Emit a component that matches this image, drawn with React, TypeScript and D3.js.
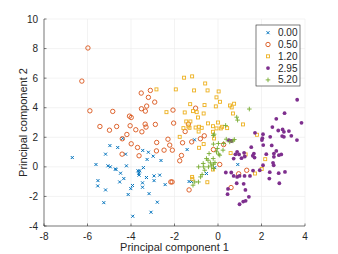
import React from "react";
import * as d3 from "d3";

const groupLabels = ["0.00", "0.50", "1.20", "2.95", "5.20"];
const groupColors = ["#0072BD", "#D95319", "#EDB120", "#7E2F8E", "#77AC30"];
const groupMarkers = ["x", "o", "s", "dot", "+"];

const xTicks = [-8, -6, -4, -2, 0, 2, 4];
const yTicks = [-4, -2, 0, 2, 4, 6, 8, 10];

const group0: [number, number][] = [
  [-6.70, 0.63], [-4.97, 1.44], [-5.17, 0.86], [-5.61, 0.16], [-5.06, 0.07], [-4.95, 0.0], [-5.52, -0.93], [-5.53, -1.29],
  [-5.17, -1.56], [-5.25, -2.42], [-4.61, 1.31], [-4.38, 1.92], [-4.25, 0.86], [-4.72, -0.14], [-4.69, -0.18], [-4.48, -0.43],
  [-4.21, 0.07], [-4.33, -0.79], [-4.52, -1.02], [-3.93, -1.26], [-4.01, -1.47], [-4.13, -1.87], [-3.92, -3.34], [-3.68, -0.27],
  [-3.63, -0.56], [-3.60, -0.27], [-3.64, -0.43], [-3.46, 1.11], [-3.43, -0.05], [-3.26, 0.50], [-3.20, 0.99], [-3.29, -0.72],
  [-3.47, -1.08], [-3.47, -1.38], [-3.17, -1.81], [-3.08, -3.07], [-2.98, 0.72], [-2.94, -0.61], [-2.94, -0.93], [-2.79, -2.39],
  [-2.68, -0.56], [-2.62, 0.43], [-2.43, -1.20], [-1.42, 1.17], [-1.33, -0.99], [-1.22, -0.99], [-1.08, 1.83], [-0.53, -0.45],
  [0.91, 0.16], [-0.15, -0.05],
];

const group1: [number, number][] = [
  [-5.98, 8.04], [-6.26, 5.80], [-5.89, 3.79], [-5.43, 2.73], [-4.99, 2.48], [-4.84, 3.75], [-4.66, 2.73], [-4.40, 1.90],
  [-4.41, 0.86], [-4.19, 2.19], [-4.07, 3.43], [-3.99, 3.34], [-4.04, 2.78], [-3.99, 1.56], [-3.78, 2.51], [-3.70, 1.31],
  [-3.63, 0.75], [-3.53, 4.99], [-3.52, 3.93], [-3.50, 2.37], [-3.35, 2.89], [-3.31, 2.69], [-3.34, 3.77], [-3.28, 4.11],
  [-3.20, 4.70], [-3.11, 5.17], [-2.91, 4.38], [-2.88, 2.87], [-2.82, 1.65], [-2.83, 1.08], [-2.48, 1.13], [-2.30, 1.87],
  [-2.22, 1.47], [-2.10, 1.13], [-2.07, 3.84], [-2.04, 2.96], [-2.17, -1.02], [-2.11, -1.02], [-1.76, 0.41], [-1.68, 0.77],
  [-1.63, 1.63], [-1.51, 2.39], [-1.36, 2.89], [-1.33, -1.56], [-1.21, 1.69], [-1.03, 3.97], [-0.81, 1.90], [-0.63, 2.10],
  [-0.21, 1.17], [0.26, 1.51], [0.08, 0.16], [0.60, -1.40], [0.95, -0.47], [1.32, -0.23],
];

const group2: [number, number][] = [
  [-2.83, 5.24], [-1.94, 5.24], [-1.56, 6.03], [-1.19, 6.12], [-1.10, 5.17], [-0.59, 5.64], [-0.48, 5.17], [-0.07, 4.70],
  [0.03, 5.10], [0.09, 4.40], [-0.10, 4.09], [-0.62, 4.18], [-1.28, 4.24], [-1.15, 3.77], [-0.98, 3.70], [-2.37, 3.70],
  [-1.53, 3.68], [-1.46, 3.07], [-1.27, 3.07], [-1.36, 2.73], [-1.59, 2.62], [-1.03, 2.66], [-0.92, 3.34], [-0.87, 2.71],
  [-0.75, 2.64], [-0.89, 2.39], [-1.31, 2.64], [-1.76, 2.03], [-0.66, 3.61], [-0.46, 2.94], [-0.23, 2.75], [-0.23, 2.37],
  [-0.07, 2.60], [0.13, 2.60], [0.19, 2.71], [0.42, 2.62], [0.00, 3.00], [0.55, 4.15], [0.63, 4.02], [0.74, 4.27],
  [0.69, 3.61], [1.15, 2.87], [1.79, 2.17], [-0.66, 1.54], [-0.87, 1.29], [-0.18, 1.92], [0.58, 0.93], [1.27, 0.84],
  [2.17, 0.52], [2.01, -0.14], [1.70, -0.45], [-1.19, -0.68], [-1.18, -0.81], [-0.49, -1.04], [-0.23, -0.18],
];

const group3: [number, number][] = [
  [3.64, 4.54], [3.84, 2.98], [3.06, 3.63], [2.68, 3.25], [2.50, 2.69], [2.77, 2.46], [2.97, 2.53], [3.03, 2.37],
  [2.95, 2.08], [3.03, 2.03], [3.26, 2.42], [3.37, 2.10], [3.63, 1.81], [1.70, 2.30], [2.07, 2.21], [2.04, 1.94],
  [2.02, 1.81], [2.40, 2.03], [1.53, 1.33], [2.08, 1.47], [2.47, 1.45], [2.68, 1.08], [2.57, 0.90], [2.22, 0.86],
  [1.65, 0.90], [0.88, 1.02], [0.97, 0.84], [1.08, 0.59], [1.23, 0.70], [1.68, 0.63], [0.72, 0.56], [2.07, 0.11],
  [2.53, 0.27], [2.56, 0.11], [2.57, 0.68], [2.80, 0.79], [2.91, 0.84], [0.36, -0.38], [0.61, -0.38], [0.72, -0.61],
  [0.88, -0.68], [0.99, -0.61], [1.22, -0.61], [1.47, -0.61], [1.61, -0.25], [1.92, -0.23], [2.38, -0.36], [2.79, -0.43],
  [3.08, -0.34], [2.36, -0.79], [2.82, -1.11], [0.86, -1.11], [1.18, -1.15], [1.26, -1.56], [0.46, -1.49], [0.44, -1.85],
  [0.99, -2.53], [1.16, -2.35], [1.27, -2.30], [1.42, -2.03], [1.60, 0.75], [1.20, 0.95], [0.80, 0.85], [0.50, 1.80],
  [0.62, 1.75],
];

const group4: [number, number][] = [
  [1.44, 3.91], [0.86, 3.36], [0.90, 3.16], [0.35, 2.80], [0.75, 1.85], [0.69, 1.76], [0.54, 1.69], [0.38, 1.87],
  [0.26, 1.58], [0.02, 1.58], [-0.18, 2.21], [-0.21, 2.12], [-0.21, 1.54], [-0.41, 0.90], [-0.07, 1.02], [-0.03, 1.24],
  [0.03, 0.86], [-0.53, 0.56], [-0.46, 0.45], [-0.35, 0.27], [-0.21, 0.18], [-0.14, 0.29], [-0.29, 0.07], [-0.44, 0.0],
  [-0.66, 0.0], [-0.89, 0.0], [-0.73, -0.52], [-0.80, -0.68], [-0.90, -1.02], [-1.07, -1.02], [-1.15, -1.24], [-0.21, -0.11],
  [0.23, 1.13], [-0.22, 0.56], [-0.68, 0.23], [-0.61, -0.23], [0.08, 0.79],
];

const groups = [group0, group1, group2, group3, group4];

const W = 338, H = 254;
const L = 44, R = 305, T = 19, B = 226;

function Marker({ type, color, x, y }: { type: string; color: string; x: number; y: number }) {
  if (type === "x") {
    const a = 1.5;
    return (
      <path d={`M${x - a},${y - a}L${x + a},${y + a}M${x - a},${y + a}L${x + a},${y - a}`} stroke={color} strokeWidth={1} fill="none" />
    );
  }
  if (type === "o") {
    return <circle cx={x} cy={y} r={2.2} stroke={color} strokeWidth={0.9} fill="none" />;
  }
  if (type === "s") {
    const a = 1.5;
    return <rect x={x - a} y={y - a} width={2 * a} height={2 * a} stroke={color} strokeWidth={0.9} fill="none" />;
  }
  if (type === "dot") {
    return <circle cx={x} cy={y} r={1.9} fill={color} />;
  }
  const a = 2.3;
  return <path d={`M${x - a},${y}L${x + a},${y}M${x},${y - a}L${x},${y + a}`} stroke={color} strokeWidth={0.9} fill="none" />;
}

export default function App() {
  const xs = d3.scaleLinear().domain([-8, 4]).range([L, R]);
  const ys = d3.scaleLinear().domain([-4, 10]).range([B, T]);
  const font = "'Liberation Sans', Arial, sans-serif";
  const axisColor = "#262626";
  return (
    <svg width={W} height={H} style={{ position: "absolute", left: 0, top: 0 }} fontFamily={font}>
      <rect width={W} height={H} fill="#fff" />
      {xTicks.map((t) => (
        <line key={"gx" + t} x1={xs(t)} x2={xs(t)} y1={T} y2={B} stroke="#ebebeb" strokeWidth={0.6} />
      ))}
      {yTicks.map((t) => (
        <line key={"gy" + t} x1={L} x2={R} y1={ys(t)} y2={ys(t)} stroke="#ebebeb" strokeWidth={0.6} />
      ))}
      <line x1={L} x2={L} y1={T} y2={B} stroke={axisColor} strokeWidth={0.6} />
      <line x1={L} x2={R} y1={B} y2={B} stroke={axisColor} strokeWidth={0.6} />
      {xTicks.map((t) => (
        <g key={"tx" + t}>
          <line x1={xs(t)} x2={xs(t)} y1={B} y2={B - 2.5} stroke={axisColor} strokeWidth={0.6} />
          <text x={xs(t)} y={240} fontSize={10} textAnchor="middle" fill={axisColor}>{t}</text>
        </g>
      ))}
      {yTicks.map((t) => (
        <g key={"ty" + t}>
          <line x1={L} x2={L + 2.5} y1={ys(t)} y2={ys(t)} stroke={axisColor} strokeWidth={0.6} />
          <text x={38} y={ys(t) + 3.5} fontSize={10} textAnchor="end" fill={axisColor}>{t}</text>
        </g>
      ))}
      {groups.map((g, gi) => (
        <g key={"g" + gi}>
          {g.map((p, i) => (
            <Marker key={i} type={groupMarkers[gi]} color={groupColors[gi]} x={xs(p[0])} y={ys(p[1])} />
          ))}
        </g>
      ))}
      <text x={174.5} y={251} fontSize={11} textAnchor="middle" fill={axisColor}>Principal component 1</text>
      <text transform={`translate(26.5,${(T + B) / 2}) rotate(-90)`} fontSize={11} textAnchor="middle" fill={axisColor}>
        Principal component 2
      </text>
      <rect x={256} y={25} width={44} height={61} fill="#fff" stroke="#262626" strokeWidth={0.6} />
      {groupLabels.map((lab, i) => {
        const cy = 32.7 + i * 11.8;
        return (
          <g key={"l" + i}>
            <Marker type={groupMarkers[i]} color={groupColors[i]} x={268} y={cy} />
            <text x={278} y={cy + 3.5} fontSize={10} fill={axisColor}>{lab}</text>
          </g>
        );
      })}
    </svg>
  );
}
